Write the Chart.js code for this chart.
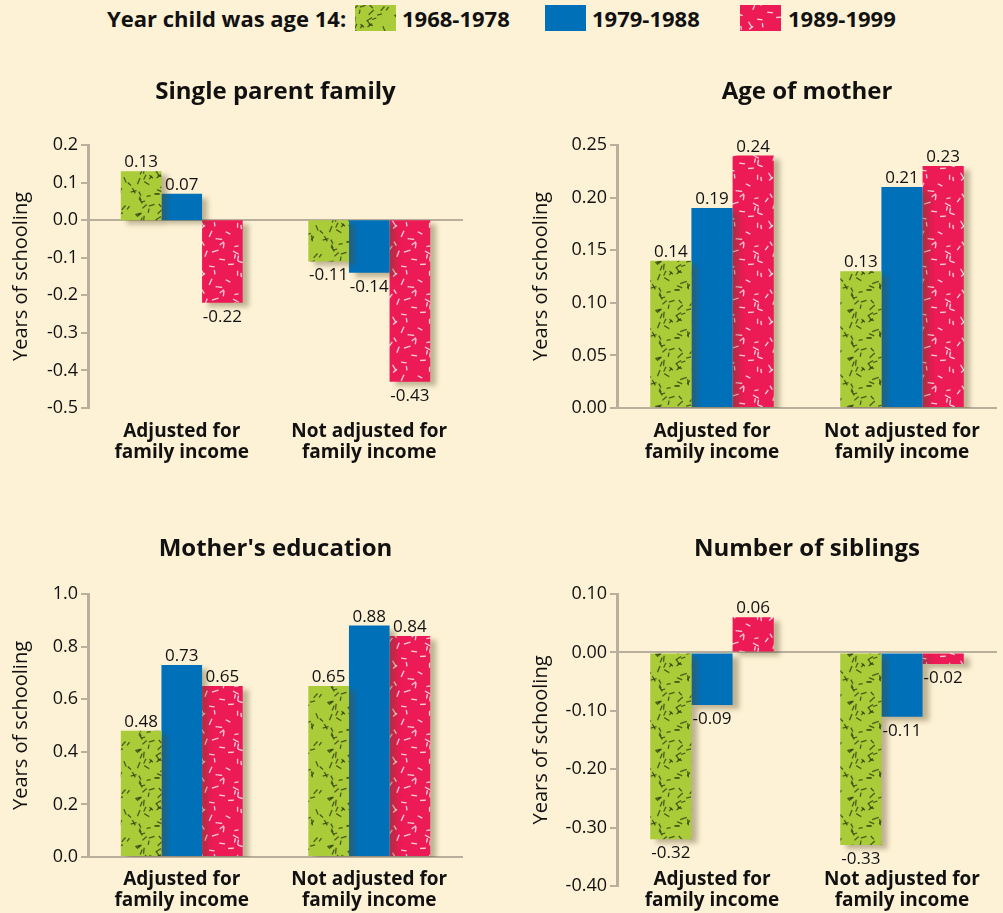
<!DOCTYPE html>
<html>
<head>
<meta charset="utf-8">
<script src="https://cdn.jsdelivr.net/npm/chart.js@4"></script>
<style>
  body { margin: 0; background: #fdf2d5; font-family: "Open Sans", sans-serif; }
  #page { position: relative; width: 1003px; height: 913px; overflow: hidden; }
  .box { position: absolute; }
  .lg { position: absolute; top: 3px; font: bold 22px "Open Sans"; color: #111; line-height: 30px; white-space: nowrap; }
  .sw { position: absolute; top: 5px; width: 41px; height: 26px; }
</style>
</head>
<body>
<div id="page">
  <div class="lg" style="left:107px">Year child was age 14:</div>
  <canvas class="sw" id="sw0" width="41" height="26" style="left:355px"></canvas>
  <div class="lg" style="left:402px">1968-1978</div>
  <canvas class="sw" id="sw1" width="41" height="26" style="left:545px"></canvas>
  <div class="lg" style="left:592px">1979-1988</div>
  <canvas class="sw" id="sw2" width="41" height="26" style="left:740px"></canvas>
  <div class="lg" style="left:788px">1989-1999</div>

  <canvas class="box" id="c1" width="480" height="410" style="left:0;top:60px"></canvas>
  <canvas class="box" id="c2" width="483" height="410" style="left:520px;top:60px"></canvas>
  <canvas class="box" id="c3" width="480" height="413" style="left:0;top:500px"></canvas>
  <canvas class="box" id="c4" width="483" height="413" style="left:520px;top:500px"></canvas>
</div>
<script>
// categories and series
const groups = [["Adjusted for", "family income"], ["Not adjusted for", "family income"]];
const periods = ["1968-1978", "1979-1988", "1989-1999"];

const singleParent1968 = [0.13, -0.11];
const singleParent1979 = [0.07, -0.14];
const singleParent1989 = [-0.22, -0.43];

const ageMother1968 = [0.14, 0.13];
const ageMother1979 = [0.19, 0.21];
const ageMother1989 = [0.24, 0.23];

const motherEdu1968 = [0.48, 0.65];
const motherEdu1979 = [0.73, 0.88];
const motherEdu1989 = [0.65, 0.84];

const siblings1968 = [-0.32, -0.33];
const siblings1979 = [-0.09, -0.11];
const siblings1989 = [0.06, -0.02];

// y scale [min, max, step, decimals]
const singleParentAxis = [-0.5, 0.2, 0.1, 1];
const ageMotherAxis = [0, 0.25, 0.05, 2];
const motherEduAxis = [0, 1.0, 0.2, 1];
const siblingsAxis = [-0.4, 0.1, 0.1, 2];

const axisGray = '#b8af9d';
const ink = '#111';
const FONT = '"Open Sans"';

// dash texture tiles (seeded so it looks the same every run)
function makeTile(bg, fg, count, seed) {
  const size = 48;
  const c = document.createElement('canvas');
  c.width = size; c.height = size;
  const g = c.getContext('2d');
  g.fillStyle = bg;
  g.fillRect(0, 0, size, size);
  let s = seed;
  const rnd = () => { s = (s * 16807) % 2147483647; return (s - 1) / 2147483646; };
  g.strokeStyle = fg;
  g.lineWidth = 1.3;
  for (let i = 0; i < count; i++) {
    const x = rnd() * size, y = rnd() * size;
    const a = rnd() * Math.PI, l = 4 + rnd() * 3;
    const dx = Math.cos(a) * l / 2, dy = Math.sin(a) * l / 2;
    for (const ox of [-size, 0, size]) {
      for (const oy of [-size, 0, size]) {
        g.beginPath();
        g.moveTo(x + ox - dx, y + oy - dy);
        g.lineTo(x + ox + dx, y + oy + dy);
        g.stroke();
      }
    }
  }
  return c;
}
const greenTile = makeTile('#a9cc38', 'rgba(50,65,20,0.8)', 38, 12345);
const redTile = makeTile('#ec1a55', 'rgba(255,255,255,0.8)', 22, 777);
const tmp = document.createElement('canvas').getContext('2d');
const fills = [tmp.createPattern(greenTile, 'repeat'), '#0070b9', tmp.createPattern(redTile, 'repeat')];

['sw0', 'sw1', 'sw2'].forEach((id, i) => {
  const g = document.getElementById(id).getContext('2d');
  g.fillStyle = i === 1 ? fills[1] : g.createPattern(i === 0 ? greenTile : redTile, 'repeat');
  g.fillRect(0, 0, 41, 26);
});

// shadow under bars, value labels, title centred on the plot area
const barExtras = {
  id: 'barExtras',
  beforeDatasetsDraw(chart) {
    const c = chart.ctx;
    c.save();
    c.shadowColor = 'rgba(90,75,40,0.38)';
    c.shadowBlur = 5;
    c.shadowOffsetX = 6;
    c.shadowOffsetY = 4;
  },
  afterDatasetsDraw(chart) {
    const c = chart.ctx;
    c.restore();
    c.save();
    c.font = '17px ' + FONT;
    c.fillStyle = ink;
    c.textAlign = 'center';
    c.textBaseline = 'alphabetic';
    chart.data.datasets.forEach((ds, i) => {
      chart.getDatasetMeta(i).data.forEach((bar, j) => {
        const v = ds.data[j];
        const y = v >= 0 ? bar.y - 4 : bar.y + 19;
        c.fillText(v.toFixed(2), bar.x, y);
      });
    });
    const t = chart.options.plugins.areaTitle;
    c.font = 'bold 24px ' + FONT;
    c.textBaseline = 'middle';
    c.fillText(t.text, (chart.chartArea.left + chart.chartArea.right) / 2, t.y);
    c.restore();
  }
};

function makeChart(id, title, titleY, series, axis, o) {
  return new Chart(document.getElementById(id), {
    type: 'bar',
    data: {
      labels: groups,
      datasets: series.map((d, i) => ({
        label: periods[i],
        data: d,
        backgroundColor: fills[i],
        borderWidth: 0,
        categoryPercentage: 0.65,
        barPercentage: 1.0
      }))
    },
    options: {
      responsive: false,
      animation: false,
      layout: { padding: { top: o.top, right: o.right, left: 0, bottom: 0 } },
      plugins: {
        legend: { display: false },
        tooltip: { enabled: false },
        areaTitle: { text: title, y: titleY }
      },
      scales: {
        x: {
          grid: { display: false, drawTicks: false, tickLength: 0 },
          border: { display: false },
          ticks: {
            color: ink,
            font: { family: FONT, size: 19, weight: 'bold', lineHeight: '21px' },
            padding: o.xPad,
            mirror: !!o.mirror
          },
          afterFit: s => { s.height = o.xHeight; }
        },
        y: {
          min: axis[0], max: axis[1],
          ticks: {
            stepSize: axis[2],
            color: ink,
            padding: 3,
            font: { family: FONT, size: 18 },
            callback: v => (Math.abs(v) < 1e-9 ? 0 : Number(v)).toFixed(axis[3])
          },
          grid: {
            color: c => (c.tick && Math.abs(c.tick.value) < 1e-9) ? axisGray : 'rgba(0,0,0,0)',
            lineWidth: 2,
            tickColor: axisGray,
            tickLength: 7
          },
          border: { display: true, color: axisGray, width: 3 },
          title: {
            display: true,
            text: 'Years of schooling',
            color: ink,
            font: { family: FONT, size: 20 },
            padding: { top: 9, bottom: 0 }
          },
          afterFit: s => { s.width = o.yWidth; }
        }
      }
    },
    plugins: [barExtras]
  });
}

makeChart('c1', 'Single parent family', 32,
  [singleParent1968, singleParent1979, singleParent1989], singleParentAxis,
  { top: 85, right: 17, xHeight: 62, xPad: 13, yWidth: 88 });
makeChart('c2', 'Age of mother', 32,
  [ageMother1968, ageMother1979, ageMother1989], ageMotherAxis,
  { top: 85, right: 6, xHeight: 62, xPad: 13, yWidth: 97 });
makeChart('c3', "Mother's education", 49,
  [motherEdu1968, motherEdu1979, motherEdu1989], motherEduAxis,
  { top: 94, right: 17, xHeight: 56, xPad: 12, yWidth: 88 });
makeChart('c4', 'Number of siblings', 49,
  [siblings1968, siblings1979, siblings1989], siblingsAxis,
  { top: 94, right: 6, xHeight: 27, xPad: -4, mirror: true, yWidth: 97 });
</script>
</body>
</html>
